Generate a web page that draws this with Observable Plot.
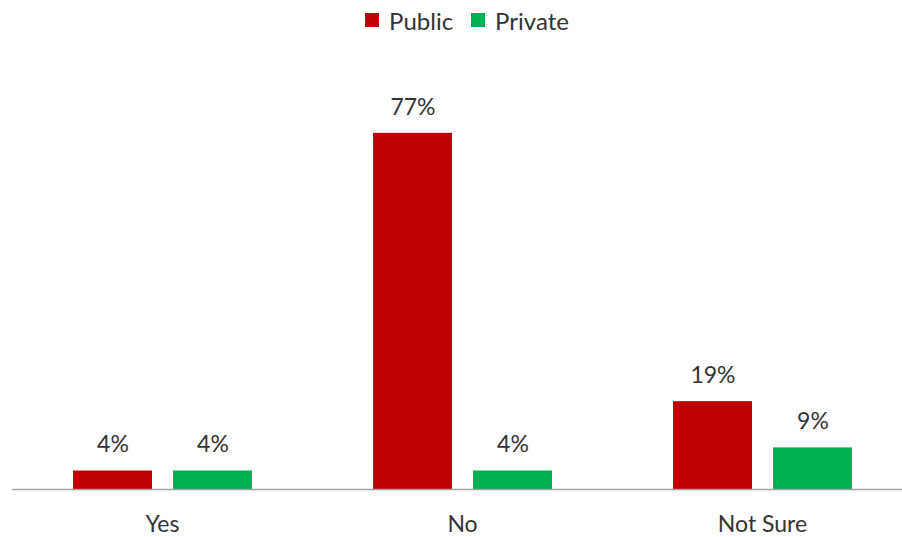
<!DOCTYPE html>
<html>
<head>
<meta charset="utf-8">
<script src="https://cdn.jsdelivr.net/npm/d3@7"></script>
<script src="https://cdn.jsdelivr.net/npm/@observablehq/plot@0.6"></script>
<style>
  html, body { margin: 0; background: #fff; font-family: Lato, sans-serif; color: #333; overflow: hidden; }
  #legend { height: 40px; display: flex; justify-content: center; align-items: center; padding-left: 32px; box-sizing: border-box; font-size: 24px; }
  .item { display: flex; align-items: center; margin: 0 9px; }
  .sw { width: 14px; height: 14px; margin-right: 10px; }
  #chart svg { display: block; }
</style>
</head>
<body>
<div id="legend"></div>
<div id="chart"></div>
<script>
const categories = ["Yes", "No", "Not Sure"];
const series = ["Public", "Private"];
const publicValues = [4, 77, 19];
const privateValues = [4, 4, 9];
const colors = ["#C00000", "#00B050"];

const data = [];
categories.forEach((c, i) => {
  data.push({category: c, series: "Public", value: publicValues[i]});
  data.push({category: c, series: "Private", value: privateValues[i]});
});

const legend = document.getElementById("legend");
series.forEach((s, i) => {
  const item = document.createElement("div");
  item.className = "item";
  const sw = document.createElement("div");
  sw.className = "sw";
  sw.style.background = colors[i];
  const t = document.createElement("span");
  t.textContent = s;
  item.appendChild(sw); item.appendChild(t);
  legend.appendChild(item);
});

const chart = Plot.plot({
  width: 902,
  height: 497,
  marginTop: 79,
  marginBottom: 48,
  marginLeft: 11,
  marginRight: 0,
  style: {fontFamily: "Lato, sans-serif", fontSize: "23px", color: "#333", background: "#fff"},
  fx: {domain: categories, range: [11, 912], padding: 0, axis: "bottom", tickSize: 0, tickPadding: 26, label: null},
  x: {domain: series, paddingInner: 0.21, paddingOuter: 0.6, axis: null},
  y: {domain: [0, 80], axis: null},
  color: {domain: series, range: colors},
  marks: [
    Plot.barY(data, {fx: "category", x: "series", y: "value", fill: "series"}),
    Plot.ruleY([0], {stroke: "#a0a0a0", strokeWidth: 1.3}),
    Plot.text(data, {fx: "category", x: "series", y: "value", text: d => d.value + "%", dy: -26, fill: "#333", fontSize: 23})
  ]
});
document.getElementById("chart").appendChild(chart);
</script>
</body>
</html>
